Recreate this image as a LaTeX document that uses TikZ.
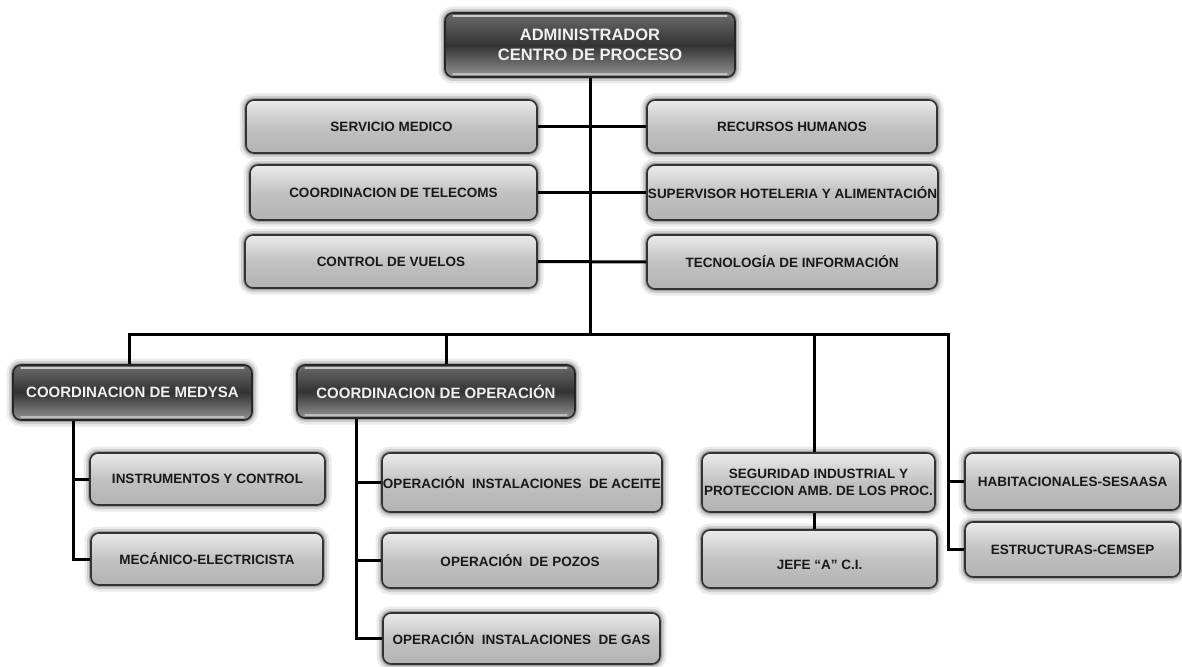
\documentclass[tikz,border=0pt]{standalone}
\usepackage{fontspec}
\setmainfont{Liberation Sans}
\begin{document}
\begin{tikzpicture}[x=1pt,y=-1pt,
  halo/.style={preaction={draw=black,opacity=0.08,line width=13pt},
               preaction={draw=black,opacity=0.12,line width=8pt},
               preaction={draw=black,opacity=0.22,line width=4pt}},
  unit/.style={halo, rounded corners=8pt, line width=1.6pt, inner sep=0pt, align=center},
  light/.style={unit, draw=black!80, top color=black!8, bottom color=black!30, middle color=black!24,
                text=black!90, font=\bfseries\fontsize{13.5}{17}\selectfont},
  dark/.style={unit, draw=black!85, top color=black!58, bottom color=black!42, middle color=black!80,
               text=white!94!black, font=\bfseries\fontsize{15}{20}\selectfont},
  link/.style={line width=3pt, black},
  gloss/.style={white, opacity=0.65, line width=1.6pt, line cap=round}
]
\useasboundingbox (0,0) rectangle (1182,666);

% head of the centre
\node[dark, minimum width=290, minimum height=64, font=\bfseries\fontsize{16.5}{20}\selectfont]
  (admin) at (590,45) {ADMINISTRADOR\\CENTRO DE PROCESO};

% staff units
\node[light, minimum width=291, minimum height=53] (serv) at (391.5,126.5) {SERVICIO MEDICO};
\node[light, minimum width=290, minimum height=53] (recu) at (792,126.5) {RECURSOS HUMANOS};
\node[light, minimum width=287, minimum height=55] (tele) at (393.5,192.5) {COORDINACION DE TELECOMS};
\node[light, minimum width=291, minimum height=55] (supe) at (792.5,192.5) {SUPERVISOR HOTELERIA Y ALIMENTACIÓN};
\node[light, minimum width=292, minimum height=53] (vuel) at (391,261.5) {CONTROL DE VUELOS};
\node[light, minimum width=290, minimum height=54] (tecn) at (792,262) {TECNOLOGÍA DE INFORMACIÓN};

% coordinations
\node[dark, minimum width=239, minimum height=55] (medysa) at (132.5,392.5) {COORDINACION DE MEDYSA};
\node[dark, minimum width=278, minimum height=53] (opera) at (436,391.5) {COORDINACION DE OPERACIÓN};

% medysa branch
\node[light, minimum width=235, minimum height=52] (instr) at (207.5,479) {INSTRUMENTOS Y CONTROL};
\node[light, minimum width=232, minimum height=52] (meca) at (207,559) {MECÁNICO-ELECTRICISTA};

% operation branch
\node[light, minimum width=280, minimum height=59] (acei) at (522,482.5) {OPERACIÓN\ \ INSTALACIONES\ \ DE ACEITE};
\node[light, minimum width=276, minimum height=55] (pozo) at (520,560.5) {OPERACIÓN\ \ DE POZOS};
\node[light, minimum width=277, minimum height=51] (gas) at (521.5,638.5) {OPERACIÓN\ \ INSTALACIONES\ \ DE GAS};

% safety branch
\node[light, minimum width=233, minimum height=59] (segu) at (818.5,482.5) {SEGURIDAD INDUSTRIAL Y\\PROTECCION AMB. DE LOS PROC.};
\node[light, minimum width=235, minimum height=58] (jefe) at (819.5,559) {\raisebox{-22pt}{JEFE “A” C.I.}};

% contractors
\node[light, minimum width=215, minimum height=57] (habi) at (1072.5,481.5) {HABITACIONALES-SESAASA};
\node[light, minimum width=215, minimum height=55] (estr) at (1072.5,549.5) {ESTRUCTURAS-CEMSEP};

% glossy highlights on the dark units
\foreach \n in {admin,medysa,opera}{
  \draw[gloss] ([shift={(9,4)}]\n.north west) -- ([shift={(-9,4)}]\n.north east);
  \draw[gloss,opacity=0.45] ([shift={(9,-4)}]\n.south west) -- ([shift={(-9,-4)}]\n.south east);
}

% connectors
\coordinate (busL) at (129,334);
\coordinate (busR) at (948,334);
\coordinate (dropO) at (446,334);
\coordinate (dropS) at (814,334);
\coordinate (mx) at (73,0);
\coordinate (ox) at (356,0);

\draw[link] (admin.south) -- (admin.south |- busL);
\draw[link] (serv.east) -- (recu.west);
\draw[link] (tele.east) -- (supe.west);
\draw[link] (vuel.east) -- (tecn.west);

\draw[link] (busL |- medysa.north) -- (busL) -- (busR) -- (busR |- estr.west) -- (estr.west);
\draw[link] (busR |- habi.west) -- (habi.west);
\draw[link] (dropO) -- (dropO |- opera.north);
\draw[link] (dropS) -- (dropS |- segu.north);
\draw[link] (dropS |- segu.south) -- (dropS |- jefe.north);

\draw[link] (mx |- medysa.south) -- (mx |- meca.west) -- (meca.west);
\draw[link] (mx |- instr.west) -- (instr.west);

\draw[link] (ox |- opera.south) -- (ox |- gas.west) -- (gas.west);
\draw[link] (ox |- acei.west) -- (acei.west);
\draw[link] (ox |- pozo.west) -- (pozo.west);
\end{tikzpicture}
\end{document}
